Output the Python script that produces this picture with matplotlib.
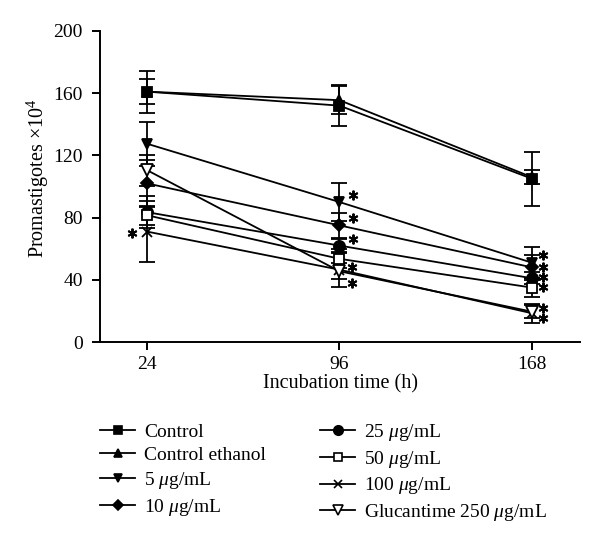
import matplotlib
matplotlib.use("Agg")
import matplotlib.pyplot as plt
from matplotlib.lines import Line2D

plt.rcParams['font.family'] = ['Liberation Serif', 'DejaVu Serif']
plt.rcParams['mathtext.fontset'] = 'custom'
plt.rcParams['mathtext.rm'] = 'Liberation Serif'
plt.rcParams['mathtext.it'] = 'Liberation Serif:italic'

times = [24, 96, 168]
labels = ["Control", "Control ethanol", "5 $\\mu$g/mL", "10 $\\mu$g/mL",
          "25 $\\mu$g/mL", "50 $\\mu$g/mL", "100 $\\mu$g/mL", "Glucantime 250 $\\mu$g/mL"]
control = [161, 152, 105]
control_ethanol = [161, 155.5, 106]
c5 = [127.5, 90, 51]
c10 = [102, 75, 48]
c25 = [83.5, 62, 41]
c50 = [81.5, 53.5, 35]
c100 = [71, 46.5, 18.5]
glucantime = [110.5, 45.5, 19.5]

err_control = [13.5, 13, 17.5]
err_control_ethanol = [8, 9, 4.5]
err_c5 = [14, 12.5, 10]
err_c10 = [15, 8, 8]
err_c25 = [10.5, 4, 4]
err_c50 = [6, 6, 6]
err_c100 = [19.5, 11, 6]
err_glucantime = [10, 5, 4]

series = [control, control_ethanol, c5, c10, c25, c50, c100, glucantime]
errors = [err_control, err_control_ethanol, err_c5, err_c10, err_c25, err_c50, err_c100, err_glucantime]
markers = ['s', '^', 'v', 'D', 'o', 's', 'x', 'v']
filled = [True, True, True, True, True, False, True, False]
msizes = [7.5, 7, 7.5, 6.5, 8, 7.5, 7.5, 8]
zorders = [5, 4, 3, 3, 3, 3, 3, 3]

# significance asterisks (time, value)
star_x = [18.5, 101, 101, 101, 100.5, 100.5, 172, 172, 172, 172, 172, 172]
star_y = [70, 94.5, 79.5, 66, 48, 38, 56, 48, 41.6, 35.6, 21.7, 15.2]

fig = plt.figure(figsize=(6.0, 5.38), dpi=100)
ax = fig.add_axes([0.1667, 0.3643, 0.8, 0.5781])

handles = []
for s, e, m, f, ms, lab, z in zip(series, errors, markers, filled, msizes, labels, zorders):
    fc = 'black' if f else 'white'
    ax.errorbar(times, s, yerr=e, color='black', marker=m, markersize=ms,
                markerfacecolor=fc, markeredgecolor='black',
                markeredgewidth=1.3, linewidth=1.3, elinewidth=1.3,
                capsize=5.5, capthick=1.3, zorder=z)
    handles.append(Line2D([], [], color='black', marker=m, markersize=ms * 0.85,
                          markerfacecolor=fc, markeredgecolor='black',
                          markeredgewidth=1.2, linewidth=1.3))

ax.plot(star_x, star_y, linestyle='none', marker=(6, 2, 0), markersize=7,
        markeredgewidth=1.4, color='black', zorder=6)

ax.set_xlim(6.4, 186)
ax.set_ylim(0, 200)
ax.set_xticks(times)
ax.set_yticks([0, 40, 80, 120, 160, 200])
for sp in ['top', 'right']:
    ax.spines[sp].set_visible(False)
for sp in ['left', 'bottom']:
    ax.spines[sp].set_linewidth(1.4)
ax.tick_params(direction='out', length=6, width=1.4, labelsize=14, pad=4)
ax.tick_params(axis='y', pad=6.5)
ax.set_xlabel('Incubation time (h)', fontsize=14.5, labelpad=1)
ax.set_ylabel('Promastigotes $\\times$10$^4$', fontsize=14.5)
ax.yaxis.set_label_coords(-0.102, 0.527)

fig.legend(handles=handles, labels=labels, ncol=2, loc='upper left',
           bbox_to_anchor=(0.1667, 0.216), frameon=False, fontsize=14,
           handlelength=1.8, handletextpad=0.45, columnspacing=2.8,
           labelspacing=0.3, borderpad=0, borderaxespad=0)

fig.savefig('out.png', dpi=100)
